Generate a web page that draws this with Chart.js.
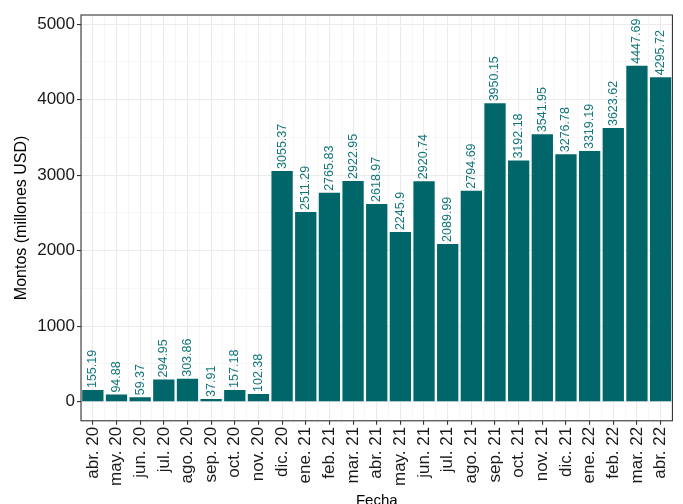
<!DOCTYPE html>
<html>
<head>
<meta charset="utf-8">
<script src="https://cdn.jsdelivr.net/npm/chart.js@4/dist/chart.umd.min.js"></script>
<style>
  html, body { margin: 0; padding: 0; background: #ffffff; }
  canvas { display: block; }
</style>
</head>
<body>
<canvas id="chart" width="683" height="504"></canvas>
<script>
// Data
const fechas = ["abr. 20", "may. 20", "jun. 20", "jul. 20", "ago. 20", "sep. 20", "oct. 20", "nov. 20", "dic. 20",
  "ene. 21", "feb. 21", "mar. 21", "abr. 21", "may. 21", "jun. 21", "jul. 21", "ago. 21", "sep. 21", "oct. 21",
  "nov. 21", "dic. 21", "ene. 22", "feb. 22", "mar. 22", "abr. 22"]
const montos = [155.19, 94.88, 59.37, 294.95, 303.86, 37.91, 157.18, 102.38, 3055.37,
  2511.29, 2765.83, 2922.95, 2618.97, 2245.9, 2920.74, 2089.99, 2794.69, 3950.15, 3192.18,
  3541.95, 3276.78, 3319.19, 3623.62, 4447.69, 4295.72]
const yTicks = [0, 500, 1000, 1500, 2000, 2500, 3000, 3500, 4000, 4500, 5000]

const barColor = "#00666a"
const fontFamily = "'Liberation Sans', Arial, sans-serif"

// Panel border like ggplot theme_bw
const panelBorder = {
  id: "panelBorder",
  afterDatasetsDraw(chart) {
    const { ctx, chartArea } = chart
    ctx.save()
    ctx.strokeStyle = "#333333"
    ctx.lineWidth = 1.1
    ctx.strokeRect(chartArea.left, chartArea.top, chartArea.right - chartArea.left, chartArea.bottom - chartArea.top)
    ctx.restore()
  },
}

// Rotated value labels above bars
const valueLabels = {
  id: "valueLabels",
  afterDatasetsDraw(chart) {
    const { ctx, chartArea } = chart
    const meta = chart.getDatasetMeta(0)
    ctx.save()
    ctx.beginPath()
    ctx.rect(chartArea.left, chartArea.top, chartArea.right - chartArea.left, chartArea.bottom - chartArea.top)
    ctx.clip()
    ctx.fillStyle = "#13767a"
    ctx.font = "12.5px " + fontFamily
    ctx.textAlign = "left"
    ctx.textBaseline = "middle"
    meta.data.forEach((bar, i) => {
      ctx.save()
      ctx.translate(bar.x, bar.y - 2)
      ctx.rotate(-Math.PI / 2)
      ctx.fillText(String(montos[i]), 0, 0)
      ctx.restore()
    })
    ctx.restore()
  },
}

new Chart(document.getElementById("chart"), {
  type: "bar",
  data: {
    labels: fechas,
    datasets: [
      {
        data: montos,
        backgroundColor: barColor,
        borderWidth: 0,
        categoryPercentage: 0.9,
        barPercentage: 1,
      },
    ],
  },
  options: {
    responsive: false,
    animation: false,
    devicePixelRatio: 1,
    layout: { padding: { top: 15, right: 0, left: 12, bottom: -6 } },
    plugins: {
      legend: { display: false },
      tooltip: { enabled: false },
    },
    scales: {
      x: {
        offset: true,
        grid: {
          offset: false,
          color: "#ebebeb",
          lineWidth: 1.1,
          tickColor: "#333333",
          tickLength: 4,
          drawOnChartArea: true,
        },
        border: { display: false },
        ticks: {
          color: "#1a1a1a",
          font: { size: 17, family: fontFamily },
          minRotation: 90,
          maxRotation: 90,
          autoSkip: false,
          padding: 2,
        },
        title: {
          display: true,
          text: "Fecha",
          color: "#000000",
          font: { size: 15, family: fontFamily },
          padding: { top: 4, bottom: 0 },
        },
      },
      x2: {
        type: "category",
        labels: fechas,
        offset: true,
        position: "bottom",
        display: true,
        grid: {
          offset: true,
          color: "#f2f2f2",
          lineWidth: 0.6,
          drawTicks: false,
        },
        border: { display: false },
        ticks: { display: false },
      },
      y: {
        min: -252,
        max: 5120,
        afterBuildTicks(scale) {
          scale.ticks = yTicks.map((v) => ({ value: v }))
        },
        grid: {
          color: (c) => (c.tick && c.tick.value % 1000 === 0 ? "#ebebeb" : "#f2f2f2"),
          lineWidth: (c) => (c.tick && c.tick.value % 1000 === 0 ? 1.1 : 0.6),
          tickColor: (c) => (c.tick && c.tick.value % 1000 === 0 ? "#333333" : "rgba(0,0,0,0)"),
          tickLength: 4,
        },
        border: { display: false },
        ticks: {
          color: "#1a1a1a",
          font: { size: 17, family: fontFamily },
          padding: 2,
          callback: (v) => (v % 1000 === 0 ? String(v) : ""),
        },
        title: {
          display: true,
          text: "Montos (millones USD)",
          color: "#000000",
          font: { size: 16, family: fontFamily },
          padding: { top: 0, bottom: 4 },
        },
      },
    },
  },
  plugins: [panelBorder, valueLabels],
})
</script>
</body>
</html>
